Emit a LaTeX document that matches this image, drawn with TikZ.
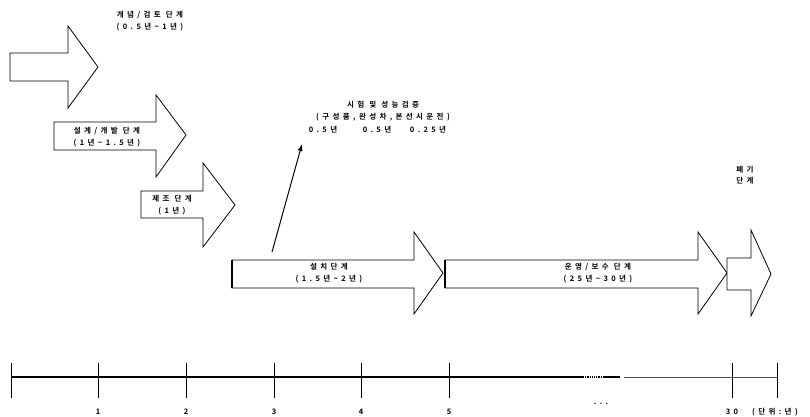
\documentclass[tikz,border=0pt]{standalone}
\usepackage{fontspec}
\newfontfamily\kr[LetterSpace=45,BoldFont={Noto Sans CJK KR Bold}]{Noto Sans CJK KR}
\usetikzlibrary{arrows.meta}
\tikzset{
  stage/.style={draw, line width=0.8pt, fill=white, line join=miter},
  lbl/.style={font=\kr\bfseries\fontsize{7.5}{11.5}\selectfont, align=center, inner sep=0pt},
  axis/.style={line width=1.6pt},
  tick/.style={line width=0.8pt},
}
\newcommand\tl{\char"007E\relax}
\begin{document}
\begin{tikzpicture}[x=1pt,y=-1pt]
\useasboundingbox (0,0) rectangle (810,417);

% concept / review stage
\draw[stage] (10,53) -- (68,53) -- (68,26) -- (98,67) -- (68,108) -- (68,81) -- (10,81) -- cycle;
\node[lbl] (concept) at (150,21) {개념/검토 단계\\(0.5년\tl1년)};

% design / development stage
\draw[stage] (54,122) -- (156,122) -- (156,95) -- (186,135) -- (156,177) -- (156,150) -- (54,150) -- cycle;
\node[lbl] (design) at (107,137) {설계/개발 단계\\(1년\tl1.5년)};

% manufacturing stage
\draw[stage] (141,191) -- (203,191) -- (203,163) -- (235,205) -- (203,247) -- (203,218) -- (141,218) -- cycle;
\node[lbl] (make) at (172,205) {제조 단계\\(1년)};

% installation stage
\draw[stage] (232,260) -- (414,260) -- (414,232) -- (443,273) -- (414,314) -- (414,288) -- (232,288) -- cycle;
\draw[line width=1.8pt] (232,260) -- (232,288);
\node[lbl] (install) at (329,273) {설치단계\\(1.5년\tl2년)};

% operation / maintenance stage
\draw[stage] (445,260) -- (698,260) -- (698,232) -- (727,273) -- (698,314) -- (698,288) -- (445,288) -- cycle;
\draw[line width=1.4pt] (445,260) -- (445,288);
\node[lbl] (operate) at (598,273) {운영/보수 단계\\(25년\tl30년)};

% disposal stage
\draw[stage] (727,258) -- (751,258) -- (751,230) -- (771,274) -- (751,316) -- (751,290) -- (727,290) -- cycle;
\node[lbl] (dispose) at (745,175) {폐기\\단계};

% test and performance verification
\node[lbl] (test) at (383,111) {시험 및 성능검증\\(구성품,완성차,본선시운전)};
\node[lbl, anchor=base] (t1) at (323,132) {0.5년};
\node[lbl, anchor=base] (t2) at (377,132) {0.5년};
\node[lbl, anchor=base] (t3) at (428,132) {0.25년};
\coordinate (tfoot) at (272,252);
\coordinate (ttop) at (302,144);
\draw[line width=1pt, -{Latex[length=7pt,width=5pt]}] (tfoot) -- (ttop);

% time axis
\coordinate (a0) at (11,377);
\coordinate (abreak) at (583,377);
\coordinate (adot) at (603,377);
\coordinate (aend1) at (620,377);
\coordinate (arest) at (624,377);
\coordinate (aend) at (777,377);
\draw[axis] (a0) -- (abreak);
\draw[line width=1.2pt, densely dotted] (abreak) -- (adot);
\draw[axis] (adot) -- (aend1);
\draw[line width=0.9pt, black!70] (arest) -- (aend);
\foreach \x/\name in {11/t0, 98/y1, 186/y2, 274/y3, 361/y4, 449/y5, 732/y30, 777/yend}
  \draw[tick] (\x,363) -- (\x,398) coordinate (\name);
\foreach \x/\t in {98/1, 186/2, 274/3, 361/4, 449/5, 732/30}
  \node[lbl] (n\t) at (\x,412) {\t};
\node[lbl] (dots) at (601,404) {...};
\node[lbl] (unit) at (775,412) {(단위:년)};
\end{tikzpicture}
\end{document}
